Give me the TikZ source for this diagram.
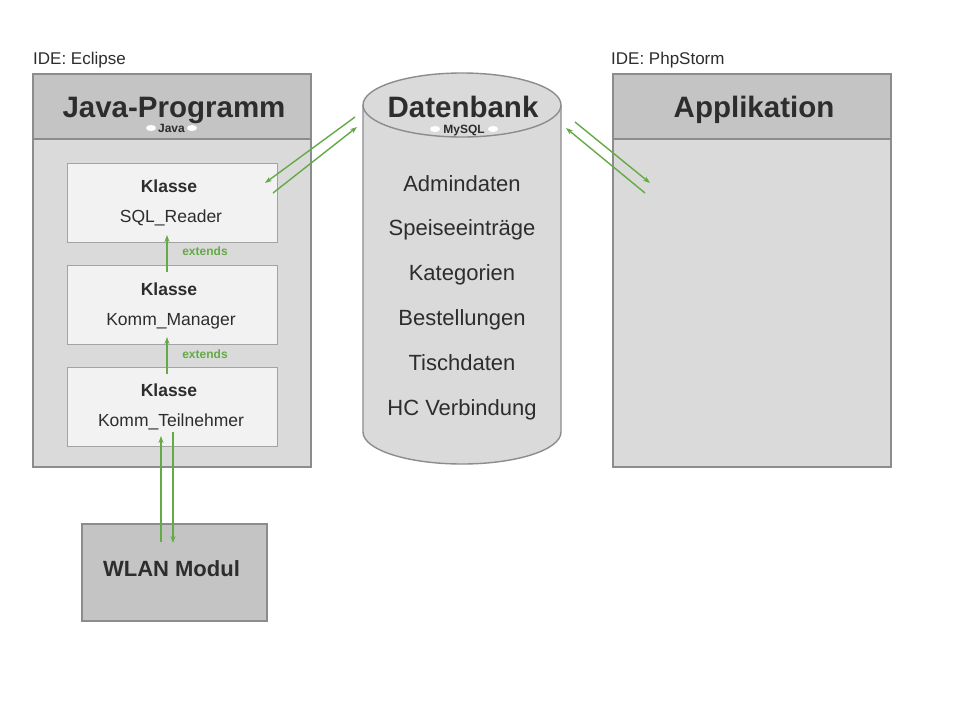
\documentclass[tikz,border=0pt]{standalone}
\usepackage{fontspec}
\setmainfont{Liberation Sans}
\usepackage{tikz}
\usetikzlibrary{arrows,arrows.meta,shapes,calc,positioning}
\definecolor{grauKopf}{RGB}{196,196,196}
\definecolor{grauRumpf}{RGB}{218,218,218}
\definecolor{grauKlasse}{RGB}{242,242,242}
\definecolor{grauRand}{RGB}{140,140,140}
\definecolor{gruenPfeil}{RGB}{100,170,70}
\definecolor{schrift}{RGB}{45,45,45}
\tikzstyle{pfeil} =[-{Stealth[length=7pt,width=5pt]}, draw=gruenPfeil, line width=1.4pt]
\tikzstyle{rumpf} =[rectangle, draw=grauRand, fill=grauRumpf,
                    line width=1.4pt, inner sep=0pt, outer sep=0pt]
\tikzstyle{kopf}  =[rectangle, draw=grauRand, fill=grauKopf,
                    line width=1.4pt, inner sep=0pt, outer sep=0pt]
\tikzstyle{klasse}=[rectangle, draw=grauRand!80, fill=grauKlasse,
                    line width=0.8pt, inner sep=0pt, outer sep=0pt,
                    minimum width=210pt, minimum height=79pt]
\tikzstyle{titel} =[anchor=base, text=schrift, inner sep=0pt,
                    font=\fontsize{29.5}{30}\selectfont\bfseries]
\tikzstyle{eintrag}=[anchor=base, text=schrift, inner sep=0pt,
                    font=\fontsize{22}{22}\selectfont]
\tikzstyle{klname}=[anchor=base, text=schrift, inner sep=0pt,
                    font=\fontsize{17.5}{17.5}\selectfont]
\tikzstyle{ide}   =[anchor=base west, text=schrift, inner sep=0pt,
                    font=\fontsize{17}{17}\selectfont]
\tikzstyle{marke} =[anchor=base, text=schrift, inner sep=0pt,
                    font=\fontsize{12}{12}\selectfont\bfseries]
\tikzstyle{erbt}  =[anchor=base, text=gruenPfeil, inner sep=0pt,
                    font=\fontsize{12}{12}\selectfont\bfseries]
\tikzstyle{wolke} =[fill=white]

\begin{document}
\begin{tikzpicture}[x=1pt,y=-1pt]
\fill[white] (0,0) rectangle (960,720);
\useasboundingbox (0,0) rectangle (960,720);

%%%%%%%%%%%%%%%%%%%%%%%%%%%%%%%%%%%%%%%%%%%%%%%%
%%%%%%%%%%        Java-Programm       %%%%%%%%%%
%%%%%%%%%%%%%%%%%%%%%%%%%%%%%%%%%%%%%%%%%%%%%%%%
\begin{scope}
\node (ideJava) [ide] at (33,64) {IDE: Eclipse};
\node (java) [rumpf, minimum width=278pt, minimum height=393pt] at (172,270.5) {};
\node (javaKopf) [kopf, minimum width=278pt, minimum height=65pt, anchor=north] at (java.north) {};
\node (javaTitel) [titel] at (174,117) {Java-Programm};
\fill[wolke] (151,128) ellipse (5 and 3);
\fill[wolke] (192,128) ellipse (5 and 3);
\node (javaMarke) [marke] at (171.5,132) {Java};

% Klassen
\node (sqlReader)      [klasse] at (172,202.5) {};
\node (kommManager)    [klasse] at (172,304.5) {};
\node (kommTeilnehmer) [klasse] at (172,406.5) {};

\node (k1) [klname, font=\fontsize{17.5}{17.5}\selectfont\bfseries] at (169,192) {Klasse};
\node (n1) [klname] at (171,222) {SQL\_Reader};
\node (k2) [klname, font=\fontsize{17.5}{17.5}\selectfont\bfseries] at (169,295) {Klasse};
\node (n2) [klname] at (171,325) {Komm\_Manager};
\node (k3) [klname, font=\fontsize{17.5}{17.5}\selectfont\bfseries] at (169,396) {Klasse};
\node (n3) [klname] at (171,426) {Komm\_Teilnehmer};

\draw [pfeil] ([xshift=-5pt,yshift=-7pt]kommManager.north) -- ([xshift=-5pt,yshift=7pt]sqlReader.south);
\draw [pfeil] ([xshift=-5pt,yshift=-7pt]kommTeilnehmer.north) -- ([xshift=-5pt,yshift=7pt]kommManager.south);
\node (e1) [erbt] at (205,255.5) {extends};
\node (e2) [erbt] at (205,358.5) {extends};
\end{scope}

%%%%%%%%%%%%%%%%%%%%%%%%%%%%%%%%%%%%%%%%%%%%%%%%
%%%%%%%%%%          Datenbank         %%%%%%%%%%
%%%%%%%%%%%%%%%%%%%%%%%%%%%%%%%%%%%%%%%%%%%%%%%%
\begin{scope}
\fill[grauRumpf] (363,105) -- (363,432)
	.. controls (363,449.7) and (407.3,464) .. (462,464)
	.. controls (516.7,464) and (561,449.7) .. (561,432) -- (561,105) -- cycle;
\draw[grauRand, line width=1.4pt] (363,105) -- (363,432)
	.. controls (363,449.7) and (407.3,464) .. (462,464)
	.. controls (516.7,464) and (561,449.7) .. (561,432) -- (561,105);
\node (db) [ellipse, draw=grauRand, fill=grauRumpf, line width=1.4pt,
	minimum width=198pt, minimum height=64pt, inner sep=0pt] at (462,105) {};
\node (dbTitel) [titel] at (463,117) {Datenbank};
\fill[wolke] (435,129) ellipse (5 and 3);
\fill[wolke] (493,129) ellipse (5 and 3);
\node (dbMarke) [marke] at (464,133) {MySQL};

\node (t1) [eintrag] at (462,191) {Admindaten};
\node (t2) [eintrag] at (462,235) {Speiseeinträge};
\node (t3) [eintrag] at (462,280) {Kategorien};
\node (t4) [eintrag] at (462,325) {Bestellungen};
\node (t5) [eintrag] at (462,370) {Tischdaten};
\node (t6) [eintrag] at (462,415) {HC Verbindung};
\end{scope}

%%%%%%%%%%%%%%%%%%%%%%%%%%%%%%%%%%%%%%%%%%%%%%%%
%%%%%%%%%%         Applikation        %%%%%%%%%%
%%%%%%%%%%%%%%%%%%%%%%%%%%%%%%%%%%%%%%%%%%%%%%%%
\begin{scope}
\node (idePhp) [ide] at (611,64) {IDE: PhpStorm};
\node (app) [rumpf, minimum width=278pt, minimum height=393pt] at (752,270.5) {};
\node (appKopf) [kopf, minimum width=278pt, minimum height=65pt, anchor=north] at (app.north) {};
\node (appTitel) [titel] at (754,117) {Applikation};
\end{scope}

%%%%%%%%%%%%%%%%%%%%%%%%%%%%%%%%%%%%%%%%%%%%%%%%
%%%%%%%%%%         WLAN Modul         %%%%%%%%%%
%%%%%%%%%%%%%%%%%%%%%%%%%%%%%%%%%%%%%%%%%%%%%%%%
\node (wlan) [kopf, minimum width=185pt, minimum height=97pt] at (174.5,572.5) {};
\node (wlanTitel) [titel, font=\fontsize{22}{22}\selectfont\bfseries] at (171.5,576) {WLAN Modul};

%%%%%%%%%%%%%%%%%%%%%%%%%%%%%%%%%%%%%%%%%%%%%%%%
%%%%%%%%%%       Verbindungen         %%%%%%%%%%
%%%%%%%%%%%%%%%%%%%%%%%%%%%%%%%%%%%%%%%%%%%%%%%%
\coordinate (jd1) at (355,117);
\coordinate (jd2) at (265,183);
\coordinate (jd3) at (273,193);
\coordinate (jd4) at (357,127);
\coordinate (da1) at (575,122);
\coordinate (da2) at (650,183);
\coordinate (da3) at (645,193);
\coordinate (da4) at (566,128);

\draw [pfeil] (jd1) -- (jd2);
\draw [pfeil] (jd3) -- (jd4);
\draw [pfeil] (da1) -- (da2);
\draw [pfeil] (da3) -- (da4);

\draw [pfeil] ([xshift=-13.5pt,yshift=-18pt]wlan.north) -- ([xshift=-11pt,yshift=10pt]kommTeilnehmer.south);
\draw [pfeil] ([xshift=1pt,yshift=14pt]kommTeilnehmer.south) -- ([xshift=-1.5pt,yshift=-19pt]wlan.north);

\end{tikzpicture}
\end{document}
